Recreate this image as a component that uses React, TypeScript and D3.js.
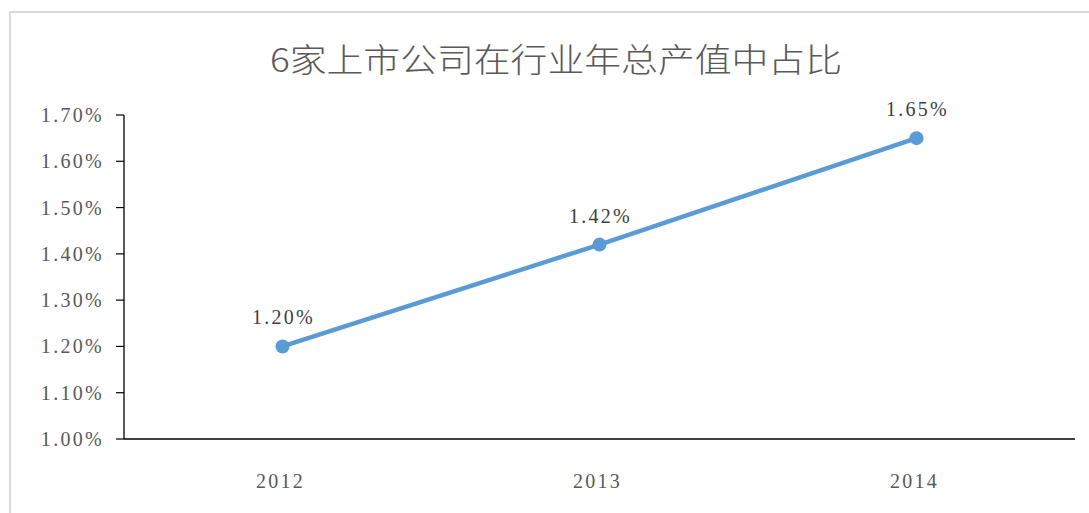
import React from "react";
import * as d3 from "d3";

const categories = ["2012", "2013", "2014"];
const values = [1.2, 1.42, 1.65];
const yTicks = [1.0, 1.1, 1.2, 1.3, 1.4, 1.5, 1.6, 1.7];
const title = "6家上市公司在行业年总产值中占比";

export default function App() {
  const left = 124, right = 1075, top = 115, bottom = 439;
  const x = d3.scaleBand().domain(categories).range([left, right]);
  const y = d3.scaleLinear().domain([1.0, 1.7]).range([bottom, top]);
  const line = d3
    .line<number>()
    .x((_, i) => (x(categories[i]) as number) + x.bandwidth() / 2)
    .y((d) => y(d));
  const serif = "'Liberation Serif', 'DejaVu Serif', serif";
  return (
    <svg
      width={1089}
      height={513}
      style={{ position: "absolute", left: 0, top: 0, background: "#fff" }}
    >
      <rect x={10} y={12} width={1200} height={600} fill="#fff" stroke="#d9d9d9" strokeWidth={2} />
      <text
        x={556}
        y={72}
        textAnchor="middle"
        fontFamily="'Noto Sans CJK SC', sans-serif"
        fontWeight={300}
        fontSize={33}
        fill="#595959"
        textLength={572}
        lengthAdjust="spacingAndGlyphs"
      >
        {title}
      </text>
      {yTicks.map((t) => (
        <g key={t}>
          <line x1={116} x2={left} y1={y(t)} y2={y(t)} stroke="#000" strokeWidth={1.2} />
          <text
            x={104}
            y={y(t) + 7}
            textAnchor="end"
            fontFamily={serif}
            fontSize={20}
            letterSpacing={2.3}
            fill="#595959"
          >
            {t.toFixed(2) + "%"}
          </text>
        </g>
      ))}
      <line x1={left} x2={left} y1={top} y2={bottom} stroke="#000" strokeWidth={1.3} />
      <line x1={left} x2={right} y1={bottom} y2={bottom} stroke="#000" strokeWidth={1.3} />
      {categories.map((c) => (
        <text
          key={c}
          x={(x(c) as number) + x.bandwidth() / 2 - 2}
          y={488}
          textAnchor="middle"
          fontFamily={serif}
          fontSize={20}
          letterSpacing={2.3}
          fill="#595959"
        >
          {c}
        </text>
      ))}
      <path d={line(values) || ""} fill="none" stroke="#5b9bd5" strokeWidth={4.5} />
      {values.map((v, i) => {
        const cx = (x(categories[i]) as number) + x.bandwidth() / 2;
        return (
          <g key={i}>
            <circle cx={cx} cy={y(v)} r={7} fill="#5b9bd5" />
            <text
              x={cx + 1}
              y={y(v) - 22}
              textAnchor="middle"
              fontFamily={serif}
              fontSize={20}
              letterSpacing={2.3}
              fill="#404040"
            >
              {v.toFixed(2) + "%"}
            </text>
          </g>
        );
      })}
    </svg>
  );
}
